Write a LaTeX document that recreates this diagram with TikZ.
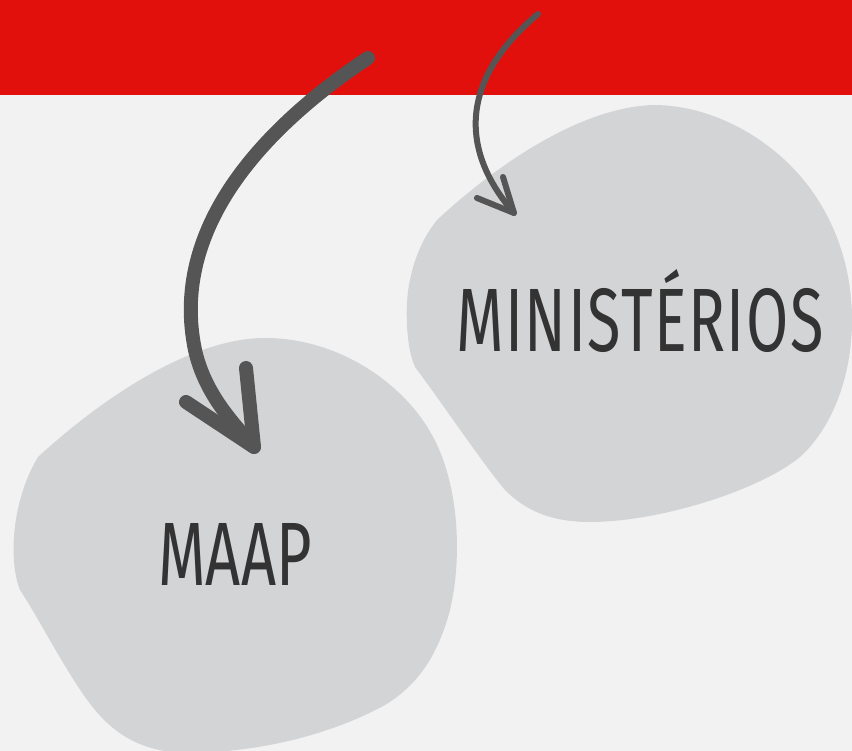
\documentclass[tikz,border=0pt]{standalone}
\usepackage{fontspec}
\newfontfamily\lab[FakeStretch=0.68]{Fira Sans}
\newfontfamily\labw[FakeStretch=0.68,LetterSpace=1.6]{Fira Sans}
\definecolor{bgc}{HTML}{F2F2F2}
\definecolor{redc}{HTML}{E2100C}
\definecolor{blobc}{HTML}{D3D4D6}
\definecolor{arrc}{HTML}{555555}
\definecolor{txtc}{HTML}{333333}
\tikzset{
  blob/.style={fill=blobc, draw=none},
  bigarrow/.style={draw=arrc, line width=14pt, line cap=round, line join=round},
  smallarrow/.style={draw=arrc, line width=6pt, line cap=round, line join=round},
  lbl/.style={text=txtc, font=\lab\fontsize{90}{90}\selectfont, inner sep=0pt, anchor=base},
  lblw/.style={lbl, font=\labw\fontsize{90}{90}\selectfont}
}
\begin{document}
\begin{tikzpicture}[x=1pt,y=-1pt]
\path[fill=bgc] (0,0) rectangle (852,751);
\useasboundingbox (0,0) rectangle (852,751);
\path[fill=redc] (0,0) rectangle (852,95);
% MINISTERIOS blob
\path[blob] (653,105) .. controls (710,105) and (760,135) .. (790,165)
  .. controls (830,205) and (852,260) .. (852,320)
  .. controls (852,380) and (830,430) .. (800,457)
  .. controls (760,490) and (660,522) .. (590,522)
  .. controls (550,522) and (525,510) .. (505,490)
  .. controls (480,460) and (440,400) .. (415,367)
  .. controls (405,345) and (405,300) .. (410,280)
  .. controls (415,255) and (425,235) .. (437,220)
  .. controls (480,180) and (570,108) .. (653,105) -- cycle;
% MAAP blob
\path[blob] (265,338) .. controls (340,338) and (405,385) .. (432,435)
  .. controls (460,485) and (462,560) .. (450,610)
  .. controls (438,655) and (418,685) .. (385,705)
  .. controls (330,735) and (260,752) .. (190,753)
  .. controls (150,753) and (120,740) .. (95,710)
  .. controls (70,680) and (40,620) .. (20,590)
  .. controls (8,560) and (12,500) .. (38,457)
  .. controls (100,400) and (190,338) .. (265,338) -- cycle;
\node[lblw] (min) at (640,352) {MINISTÉRIOS};
\node[lbl] (maap) at (235,585) {MAAP};
% big arrow
\coordinate (bs) at (368,58);
\coordinate (bt) at (254,447);
\draw[bigarrow] (bs) .. controls (260,130) and (170,230) .. (195,350) .. controls (205,395) and (235,425) .. (bt);
\draw[bigarrow] (186,402) -- (bt) -- (246,368);
% small arrow
\coordinate (ss) at (538,14);
\coordinate (st) at (514,213);
\draw[smallarrow] (ss) .. controls (465,75) and (455,145) .. (st);
\draw[smallarrow] (477,198) -- (st) -- (503,177);
\end{tikzpicture}
\end{document}
